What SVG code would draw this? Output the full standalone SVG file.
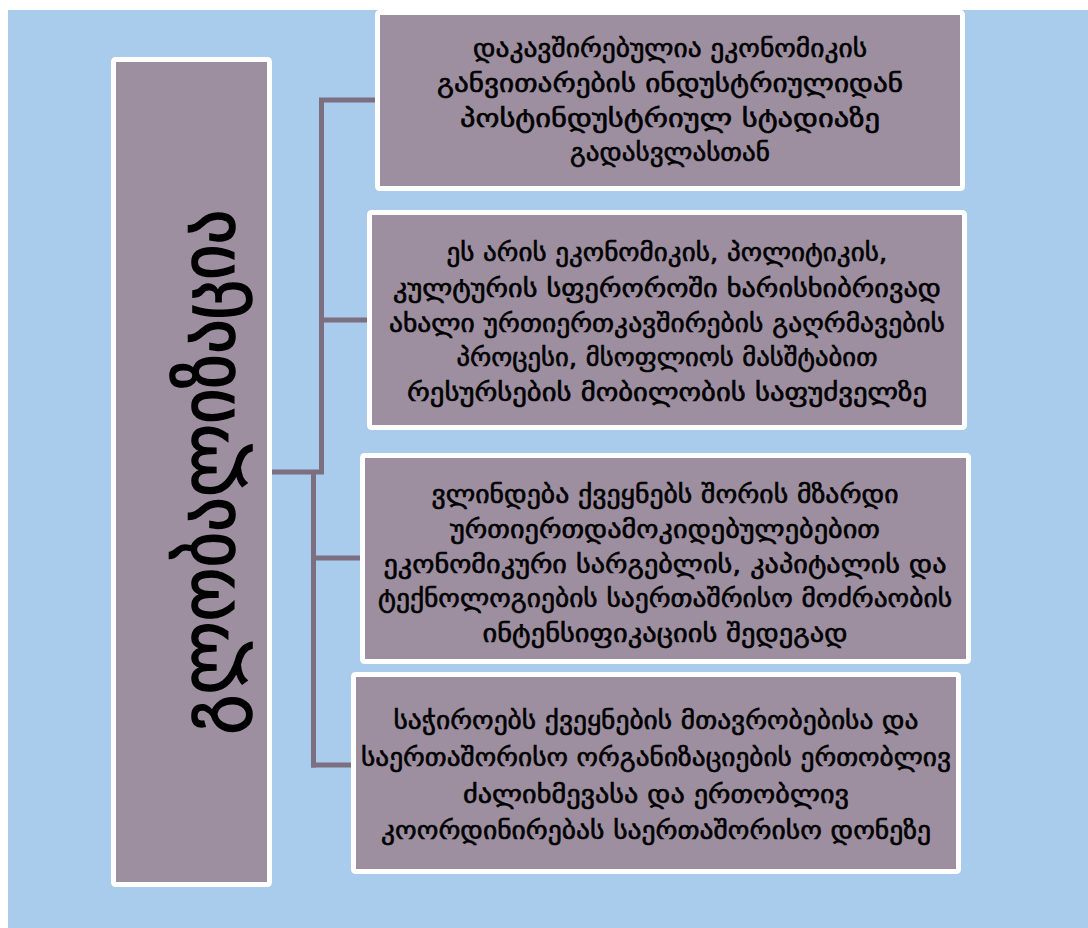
<svg xmlns="http://www.w3.org/2000/svg" width="1088" height="928" viewBox="0 0 1088 928">
<style>
.box{fill:#9D8FA0;stroke:#FFFFFF;stroke-width:5}
.t{font-family:"DejaVu Sans","Noto Sans",sans-serif;font-size:25px;fill:#000;stroke:#000;stroke-width:0.6;text-anchor:middle}
.big{font-family:"DejaVu Sans","Noto Sans",sans-serif;font-size:76px;fill:#000;stroke:#000;stroke-width:1.6;text-anchor:middle}
.c{fill:none;stroke:#7B6F80;stroke-width:5}
</style>
<rect x="0" y="0" width="1088" height="928" fill="#FFFFFF"/>
<rect x="8" y="10" width="1080" height="918" fill="#A9CBEC"/>
<g id="connectors">
<path class="c" d="M272 472H324"/>
<path class="c" d="M321.5 100V474"/>
<path class="c" d="M319 100H377"/>
<path class="c" d="M319 320H369"/>
<path class="c" d="M313.5 470V767.5"/>
<path class="c" d="M311 558H362"/>
<path class="c" d="M311 765H353"/>
</g>
<g id="main">
<rect class="box" x="113.5" y="59.5" width="156" height="825" rx="2"/>
<text class="big" transform="translate(234 472) rotate(-90)" textLength="525" lengthAdjust="spacingAndGlyphs">გლობალიზაცია</text>
</g>
<g id="box1">
<rect class="box" x="377.5" y="12.5" width="585" height="176" rx="2"/>
<text class="t" x="670" y="57" textLength="394" lengthAdjust="spacingAndGlyphs">დაკავშირებულია ეკონომიკის</text>
<text class="t" x="670" y="92" textLength="466" lengthAdjust="spacingAndGlyphs">განვითარების  ინდუსტრიულიდან</text>
<text class="t" x="670" y="127" textLength="420" lengthAdjust="spacingAndGlyphs">პოსტინდუსტრიულ  სტადიაზე</text>
<text class="t" x="670" y="161" textLength="200" lengthAdjust="spacingAndGlyphs">გადასვლასთან</text>
</g>
<g id="box2">
<rect class="box" x="369.5" y="212.5" width="595" height="215" rx="2"/>
<text class="t" x="667" y="261" textLength="441" lengthAdjust="spacingAndGlyphs">ეს არის ეკონომიკის, პოლიტიკის,</text>
<text class="t" x="667" y="297" textLength="548" lengthAdjust="spacingAndGlyphs">კულტურის სფეროროში  ხარისხიბრივად</text>
<text class="t" x="667" y="332" textLength="556" lengthAdjust="spacingAndGlyphs">ახალი ურთიერთკავშირების  გაღრმავების</text>
<text class="t" x="667" y="366" textLength="421" lengthAdjust="spacingAndGlyphs">პროცესი, მსოფლიოს  მასშტაბით</text>
<text class="t" x="667" y="401" textLength="520" lengthAdjust="spacingAndGlyphs">რესურსების  მობილობის  საფუძველზე</text>
</g>
<g id="box3">
<rect class="box" x="362.5" y="455.5" width="606" height="206" rx="2"/>
<text class="t" x="665" y="503" textLength="467" lengthAdjust="spacingAndGlyphs">ვლინდება ქვეყნებს შორის მზარდი</text>
<text class="t" x="665" y="538" textLength="430" lengthAdjust="spacingAndGlyphs">ურთიერთდამოკიდებულებებით</text>
<text class="t" x="665" y="573" textLength="563" lengthAdjust="spacingAndGlyphs">ეკონომიკური სარგებლის, კაპიტალის   და</text>
<text class="t" x="665" y="607" textLength="574" lengthAdjust="spacingAndGlyphs">ტექნოლოგიების  საერთაშრისო  მოძრაობის</text>
<text class="t" x="665" y="642" textLength="365" lengthAdjust="spacingAndGlyphs">ინტენსიფიკაციის  შედეგად</text>
</g>
<g id="box4">
<rect class="box" x="353.5" y="674.5" width="605" height="197" rx="2"/>
<text class="t" x="656" y="729" textLength="525" lengthAdjust="spacingAndGlyphs">საჭიროებს ქვეყნების მთავრობებისა  და</text>
<text class="t" x="656" y="766" textLength="590" lengthAdjust="spacingAndGlyphs">საერთაშორისო ორგანიზაციების ერთობლივ</text>
<text class="t" x="656" y="803" textLength="386" lengthAdjust="spacingAndGlyphs">ძალიხმევასა  და  ერთობლივ</text>
<text class="t" x="656" y="839" textLength="550" lengthAdjust="spacingAndGlyphs">კოორდინირებას საერთაშორისო  დონეზე</text>
</g>
</svg>
